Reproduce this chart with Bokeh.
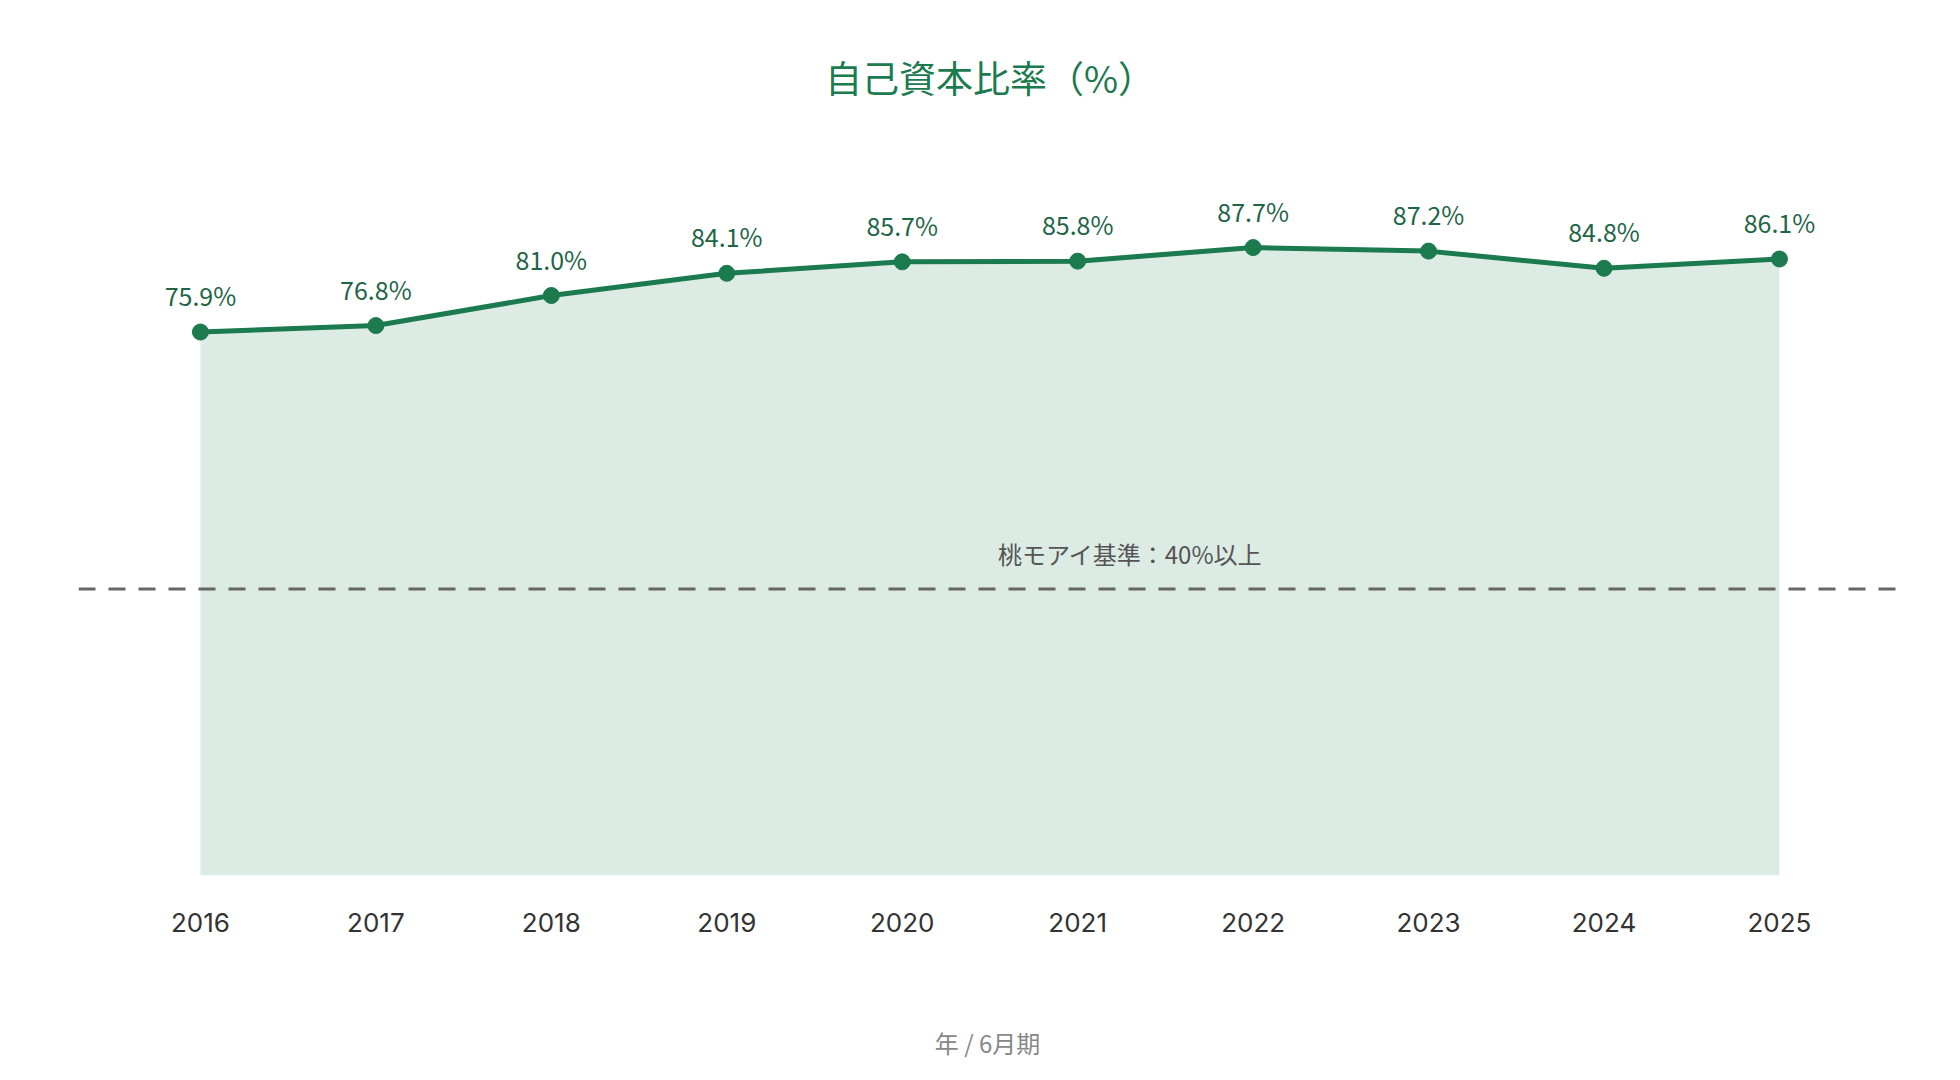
from bokeh.plotting import figure
from bokeh.models import ColumnDataSource, LabelSet, Label, Span, Range1d, FixedTicker
from bokeh.core.properties import value
from bokeh.embed import file_html
from bokeh.resources import INLINE

# 自己資本比率（%）by fiscal year (June year-end)
years = [2016, 2017, 2018, 2019, 2020, 2021, 2022, 2023, 2024, 2025]
ratios = [75.9, 76.8, 81.0, 84.1, 85.7, 85.8, 87.7, 87.2, 84.8, 86.1]
ratio_labels = [f"{v:.1f}%" for v in ratios]

threshold = 40
threshold_text = "桃モアイ基準：40%以上"
title_text = "自己資本比率（%）"
x_axis_text = "年 / 6月期"

FONT = "Noto Sans CJK JP"
NUM_FONT = "Inter"
GREEN = "#1b7a4e"
FILL = "#dcebe3"

src = ColumnDataSource(dict(x=years, y=ratios, lab=ratio_labels))

p = figure(
    width=1960, height=1080,
    x_range=Range1d(2015.305, 2025.667),
    y_range=Range1d(0, 122.2),
    output_backend="svg", toolbar_location=None,
    min_border_left=78, min_border_right=64,
    min_border_top=0, min_border_bottom=205,
    y_axis_location=None,
)
p.outline_line_color = None
p.xgrid.visible = False
p.ygrid.visible = False
p.background_fill_color = "white"
p.border_fill_color = "white"

# shaded area under the series
p.varea(x="x", y1=0, y2="y", source=src, fill_color=FILL, fill_alpha=1.0)

# reference threshold
p.add_layout(Span(location=threshold, dimension="width", line_color="#666666",
                  line_width=3, line_dash="17 13"))
p.add_layout(Label(x=2021.3, y=threshold, y_offset=36, text=threshold_text,
                   text_align="center", text_baseline="middle",
                   text_font=FONT, text_font_size="24px", text_color="#555555"))

# series line and markers
p.line(x="x", y="y", source=src, line_color=GREEN, line_width=5)
p.scatter(x="x", y="y", source=src, size=16, fill_color=GREEN, line_color=GREEN)

p.add_layout(LabelSet(x="x", y="y", text="lab", source=src, y_offset=37,
                      text_align="center", text_baseline="middle",
                      text_font=value(FONT), text_font_size=value("25px"),
                      text_color="#1f6646"))

# chart title
p.add_layout(Label(x=2020.5, y=111.45, text=title_text,
                   text_align="center", text_baseline="middle",
                   text_font=FONT, text_font_size="37px", text_color=GREEN))

# x axis
ax = p.xaxis[0]
ax.ticker = FixedTicker(ticks=years)
ax.axis_line_color = None
ax.major_tick_line_color = None
ax.minor_tick_line_color = None
ax.major_label_text_font = NUM_FONT
ax.major_label_text_font_size = "26px"
ax.major_label_text_color = "#333333"
ax.major_label_standoff = 31
ax.axis_label = x_axis_text
ax.axis_label_text_font = FONT
ax.axis_label_text_font_size = "24px"
ax.axis_label_text_font_style = "normal"
ax.axis_label_text_color = "#888888"
ax.axis_label_standoff = 90

open("out.html", "w").write(file_html(p, INLINE))
